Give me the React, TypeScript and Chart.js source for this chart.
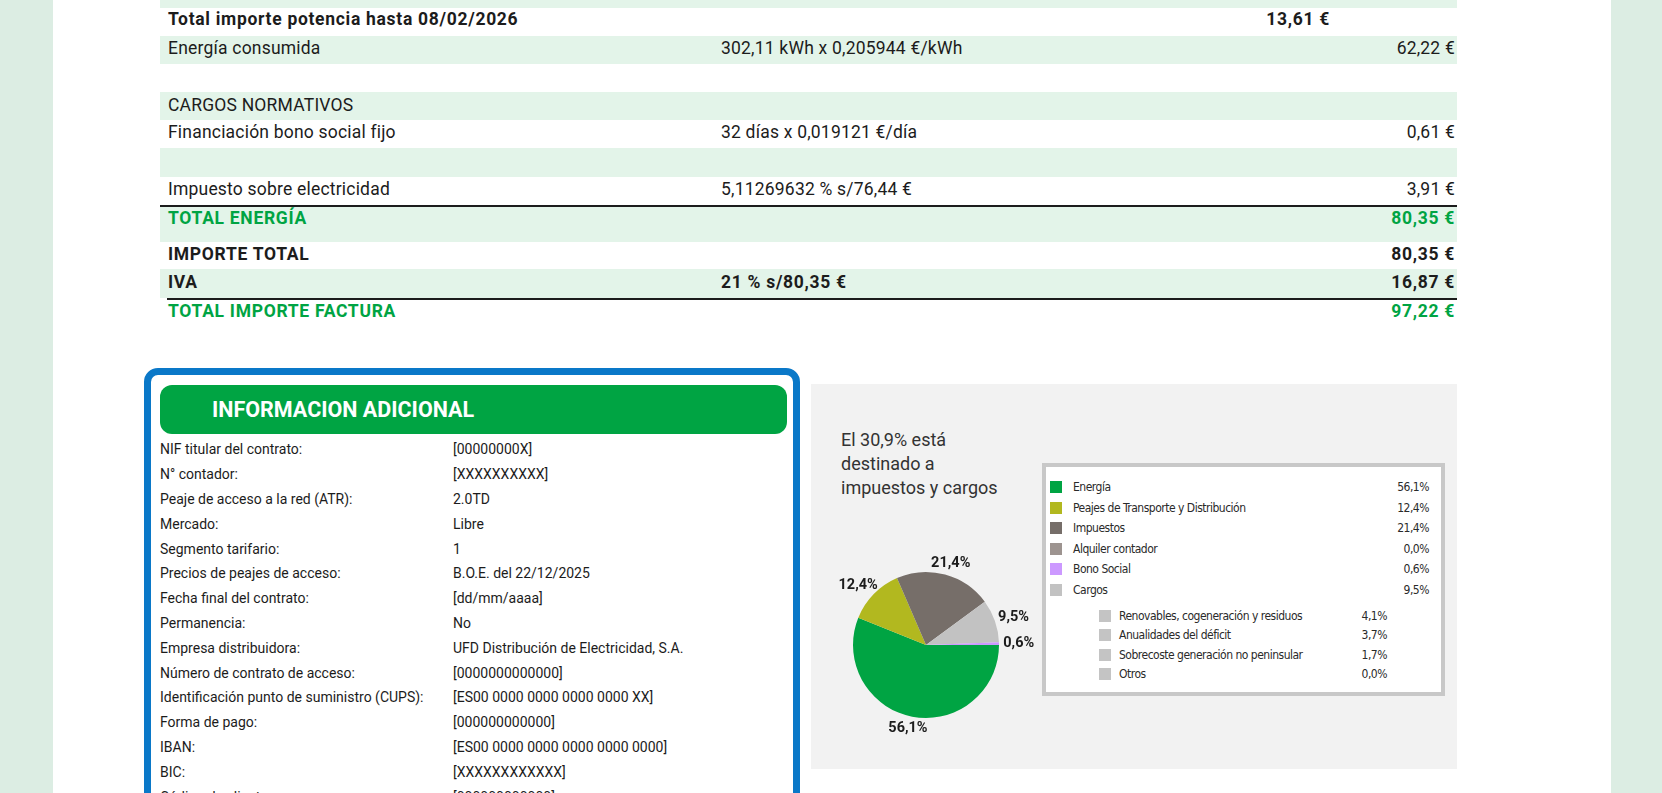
import { useEffect, useRef } from "react"
import { Chart, registerables } from "chart.js"

Chart.register(...registerables)

// invoice breakdown
const categories = [
  "Energía",
  "Peajes de Transporte y Distribución",
  "Impuestos",
  "Alquiler contador",
  "Bono Social",
  "Cargos",
]
const shares = [56.1, 12.4, 21.4, 0.0, 0.6, 9.5]
const sliceColors = ["#00a443", "#b2b81f", "#766e69", "#9d9490", "#cc99ff", "#c2c2c2"]
// order the slices are drawn in the pie
const pieOrder = [0, 1, 2, 3, 5, 4]

const cargosItems = [
  "Renovables, cogeneración y residuos",
  "Anualidades del déficit",
  "Sobrecoste generación no peninsular",
  "Otros",
]
const cargosShares = [4.1, 3.7, 1.7, 0.0]

const titleLines = ["El 30,9% está", "destinado a", "impuestos y cargos"]

// invoice lines
const rowLabels = [
  "Total importe potencia hasta 08/02/2026",
  "Energía consumida",
  "",
  "CARGOS NORMATIVOS",
  "Financiación bono social fijo",
  "",
  "Impuesto sobre electricidad",
  "TOTAL ENERGÍA",
  "IMPORTE TOTAL",
  "IVA",
  "TOTAL IMPORTE FACTURA",
]
const rowDetails = ["", "302,11 kWh x 0,205944 €/kWh", "", "", "32 días x 0,019121 €/día", "", "5,11269632 % s/76,44 €", "", "", "21 % s/80,35 €", ""]
const rowSubtotals = ["13,61 €", "", "", "", "", "", "", "", "", "", ""]
const rowAmounts = ["", "62,22 €", "", "", "0,61 €", "", "3,91 €", "80,35 €", "80,35 €", "16,87 €", "97,22 €"]

const infoLabels = [
  "NIF titular del contrato:",
  "N° contador:",
  "Peaje de acceso a la red (ATR):",
  "Mercado:",
  "Segmento tarifario:",
  "Precios de peajes de acceso:",
  "Fecha final del contrato:",
  "Permanencia:",
  "Empresa distribuidora:",
  "Número de contrato de acceso:",
  "Identificación punto de suministro (CUPS):",
  "Forma de pago:",
  "IBAN:",
  "BIC:",
  "Código de cliente:",
]
const infoValues = [
  "[00000000X]",
  "[XXXXXXXXXX]",
  "2.0TD",
  "Libre",
  "1",
  "B.O.E. del 22/12/2025",
  "[dd/mm/aaaa]",
  "No",
  "UFD Distribución de Electricidad, S.A.",
  "[0000000000000]",
  "[ES00 0000 0000 0000 0000 XX]",
  "[000000000000]",
  "[ES00 0000 0000 0000 0000 0000]",
  "[XXXXXXXXXXXX]",
  "[000000000000]",
]

const pct = (v: number) => v.toFixed(1).replace(".", ",") + "%"

const GREEN = "#00a443"
const INK = "#1c1c1c"
const NARROW = "'Liberation Sans Narrow', 'DejaVu Sans Condensed', sans-serif"

// row looks: [top, height, textMid, stripe, bold, green, borderFrom]
const rowLooks: [number, number, number, boolean, boolean, boolean, number][] = [
  [8, 28, 11, false, true, false, 0],
  [36, 28, 12, true, false, false, 0],
  [64, 28, 12, false, false, false, 0],
  [92, 28, 13, true, false, false, 0],
  [120, 28, 12.5, false, false, false, 0],
  [148, 29, 12, true, false, false, 0],
  [177, 28, 12.5, false, false, false, 160],
  [207, 35, 11.5, true, true, true, 0],
  [242, 27, 12.5, false, true, false, 0],
  [269, 29, 13, true, true, false, 167],
  [300, 24, 11, false, true, true, 0],
]

// percentage labels outside each slice
const outsideLabels = {
  id: "outsideLabels",
  afterDatasetsDraw(chart: any) {
    const { ctx } = chart
    const meta = chart.getDatasetMeta(0)
    const values = chart.data.datasets[0].data as number[]
    ctx.save()
    ctx.font = "bold 14.5px Roboto"
    ctx.fillStyle = INK
    ctx.textAlign = "center"
    ctx.textBaseline = "middle"
    meta.data.forEach((arc: any, i: number) => {
      if (!values[i]) return
      const p = arc.getProps(["x", "y", "startAngle", "endAngle", "outerRadius"], true)
      const mid = (p.startAngle + p.endAngle) / 2
      const text = pct(values[i])
      const w = ctx.measureText(text).width
      const r = p.outerRadius + 12
      ctx.fillText(text, p.x + Math.cos(mid) * (r + w * 0.25), p.y + Math.sin(mid) * r)
    })
    ctx.restore()
  },
}

function PieChart() {
  const canvasRef = useRef<HTMLCanvasElement>(null)

  useEffect(() => {
    if (!canvasRef.current) return
    const chart = new Chart(canvasRef.current, {
      type: "pie",
      data: {
        labels: pieOrder.map((i) => categories[i]),
        datasets: [
          {
            data: pieOrder.map((i) => shares[i]),
            backgroundColor: pieOrder.map((i) => sliceColors[i]),
            borderWidth: 0,
          },
        ],
      },
      options: {
        animation: false,
        responsive: true,
        maintainAspectRatio: false,
        rotation: 90,
        layout: { padding: 37 },
        plugins: {
          legend: { display: false },
          tooltip: { enabled: false },
        },
      },
      plugins: [outsideLabels],
    })
    return () => chart.destroy()
  }, [])

  return (
    <div style={{ position: "absolute", left: 816, top: 535, width: 220, height: 220 }}>
      <canvas ref={canvasRef}></canvas>
    </div>
  )
}

export default function App() {
  const abs = (left: number, top: number, extra: any = {}) => ({ position: "absolute" as const, left, top, ...extra })

  return (
    <div
      style={{
        position: "fixed",
        left: 0,
        top: 0,
        width: 1662,
        height: 793,
        overflow: "hidden",
        background: "#dcede3",
        fontFamily: "Roboto, sans-serif",
        color: INK,
      }}
    >
      <div style={abs(53, 0, { width: 1558, height: 793, background: "#ffffff" })} />

      {/* invoice table */}
      <div style={abs(160, 0, { width: 1297, height: 8, background: "#e3f4e9" })} />
      {rowLabels.map((label, i) => {
        const [top, h, mid, stripe, bold, green, borderFrom] = rowLooks[i]
        const text = {
          position: "absolute" as const,
          top: 0,
          lineHeight: mid * 2 + "px",
          fontSize: 17.5,
          fontWeight: bold ? 700 : 400,
          letterSpacing: bold ? 0.7 : 0.2,
          color: green ? GREEN : INK,
          whiteSpace: "nowrap" as const,
        }
        return (
          <div key={i} style={abs(160, top, { width: 1297, height: h, background: stripe ? "#e3f4e9" : "#ffffff" })}>
            <span style={{ ...text, left: 8 }}>{label}</span>
            <span style={{ ...text, left: 561 }}>{rowDetails[i]}</span>
            <span style={{ ...text, right: 127 }}>{rowSubtotals[i]}</span>
            <span style={{ ...text, right: 2 }}>{rowAmounts[i]}</span>
            {borderFrom > 0 && (
              <div style={{ position: "absolute", left: borderFrom - 160, right: 0, bottom: -2, height: 2, background: "#1c1c1c" }} />
            )}
          </div>
        )
      })}

      {/* additional info box */}
      <div
        style={abs(144, 368, {
          width: 656,
          height: 460,
          border: "7px solid #0a78c8",
          borderRadius: 14,
          boxSizing: "border-box",
          background: "#ffffff",
        })}
      />
      <div
        style={abs(160, 385, {
          width: 627,
          height: 49,
          borderRadius: 12,
          background: GREEN,
          color: "#ffffff",
          fontWeight: 700,
          fontSize: 21.5,
          lineHeight: "49px",
          paddingLeft: 52,
          boxSizing: "border-box",
        })}
      >
        INFORMACION ADICIONAL
      </div>
      {infoLabels.map((label, i) => (
        <div key={i} style={abs(160, 449.4 + i * 24.8 - 10, { height: 20, lineHeight: "20px", fontSize: 14, width: 600 })}>
          <span style={{ position: "absolute", left: 0, whiteSpace: "nowrap" }}>{label}</span>
          <span style={{ position: "absolute", left: 293, whiteSpace: "nowrap" }}>{infoValues[i]}</span>
        </div>
      ))}

      {/* pie panel */}
      <div style={abs(811, 384, { width: 646, height: 385, background: "#f2f2f2" })} />
      {titleLines.map((t, i) => (
        <div key={i} style={abs(841, 440 + i * 24 - 12, { fontSize: 18, lineHeight: "24px", color: "#333333", whiteSpace: "nowrap" })}>
          {t}
        </div>
      ))}

      <div
        style={abs(1042, 463, {
          width: 403,
          height: 233,
          border: "4px solid #c8c8c8",
          boxSizing: "border-box",
          background: "#ffffff",
        })}
      />
      {categories.map((c, i) => (
        <div key={c} style={abs(1050, 487 + i * 20.5 - 7, { width: 380, height: 14, fontFamily: NARROW, fontSize: 12, letterSpacing: -0.5, lineHeight: "14px", color: "#2a2a2a" })}>
          <div style={{ position: "absolute", left: 0, top: 1, width: 12, height: 12, background: sliceColors[i] }} />
          <span style={{ position: "absolute", left: 23, whiteSpace: "nowrap" }}>{c}</span>
          <span style={{ position: "absolute", right: 1, whiteSpace: "nowrap" }}>{pct(shares[i])}</span>
        </div>
      ))}
      {cargosItems.map((c, i) => (
        <div key={c} style={abs(1099, 616 + i * 19.3 - 7, { width: 288, height: 14, fontFamily: NARROW, fontSize: 12, letterSpacing: -0.5, lineHeight: "14px", color: "#2a2a2a" })}>
          <div style={{ position: "absolute", left: 0, top: 1, width: 12, height: 12, background: "#c4c4c4" }} />
          <span style={{ position: "absolute", left: 20, whiteSpace: "nowrap" }}>{c}</span>
          <span style={{ position: "absolute", right: 0, whiteSpace: "nowrap" }}>{pct(cargosShares[i])}</span>
        </div>
      ))}

      <PieChart />
    </div>
  )
}
